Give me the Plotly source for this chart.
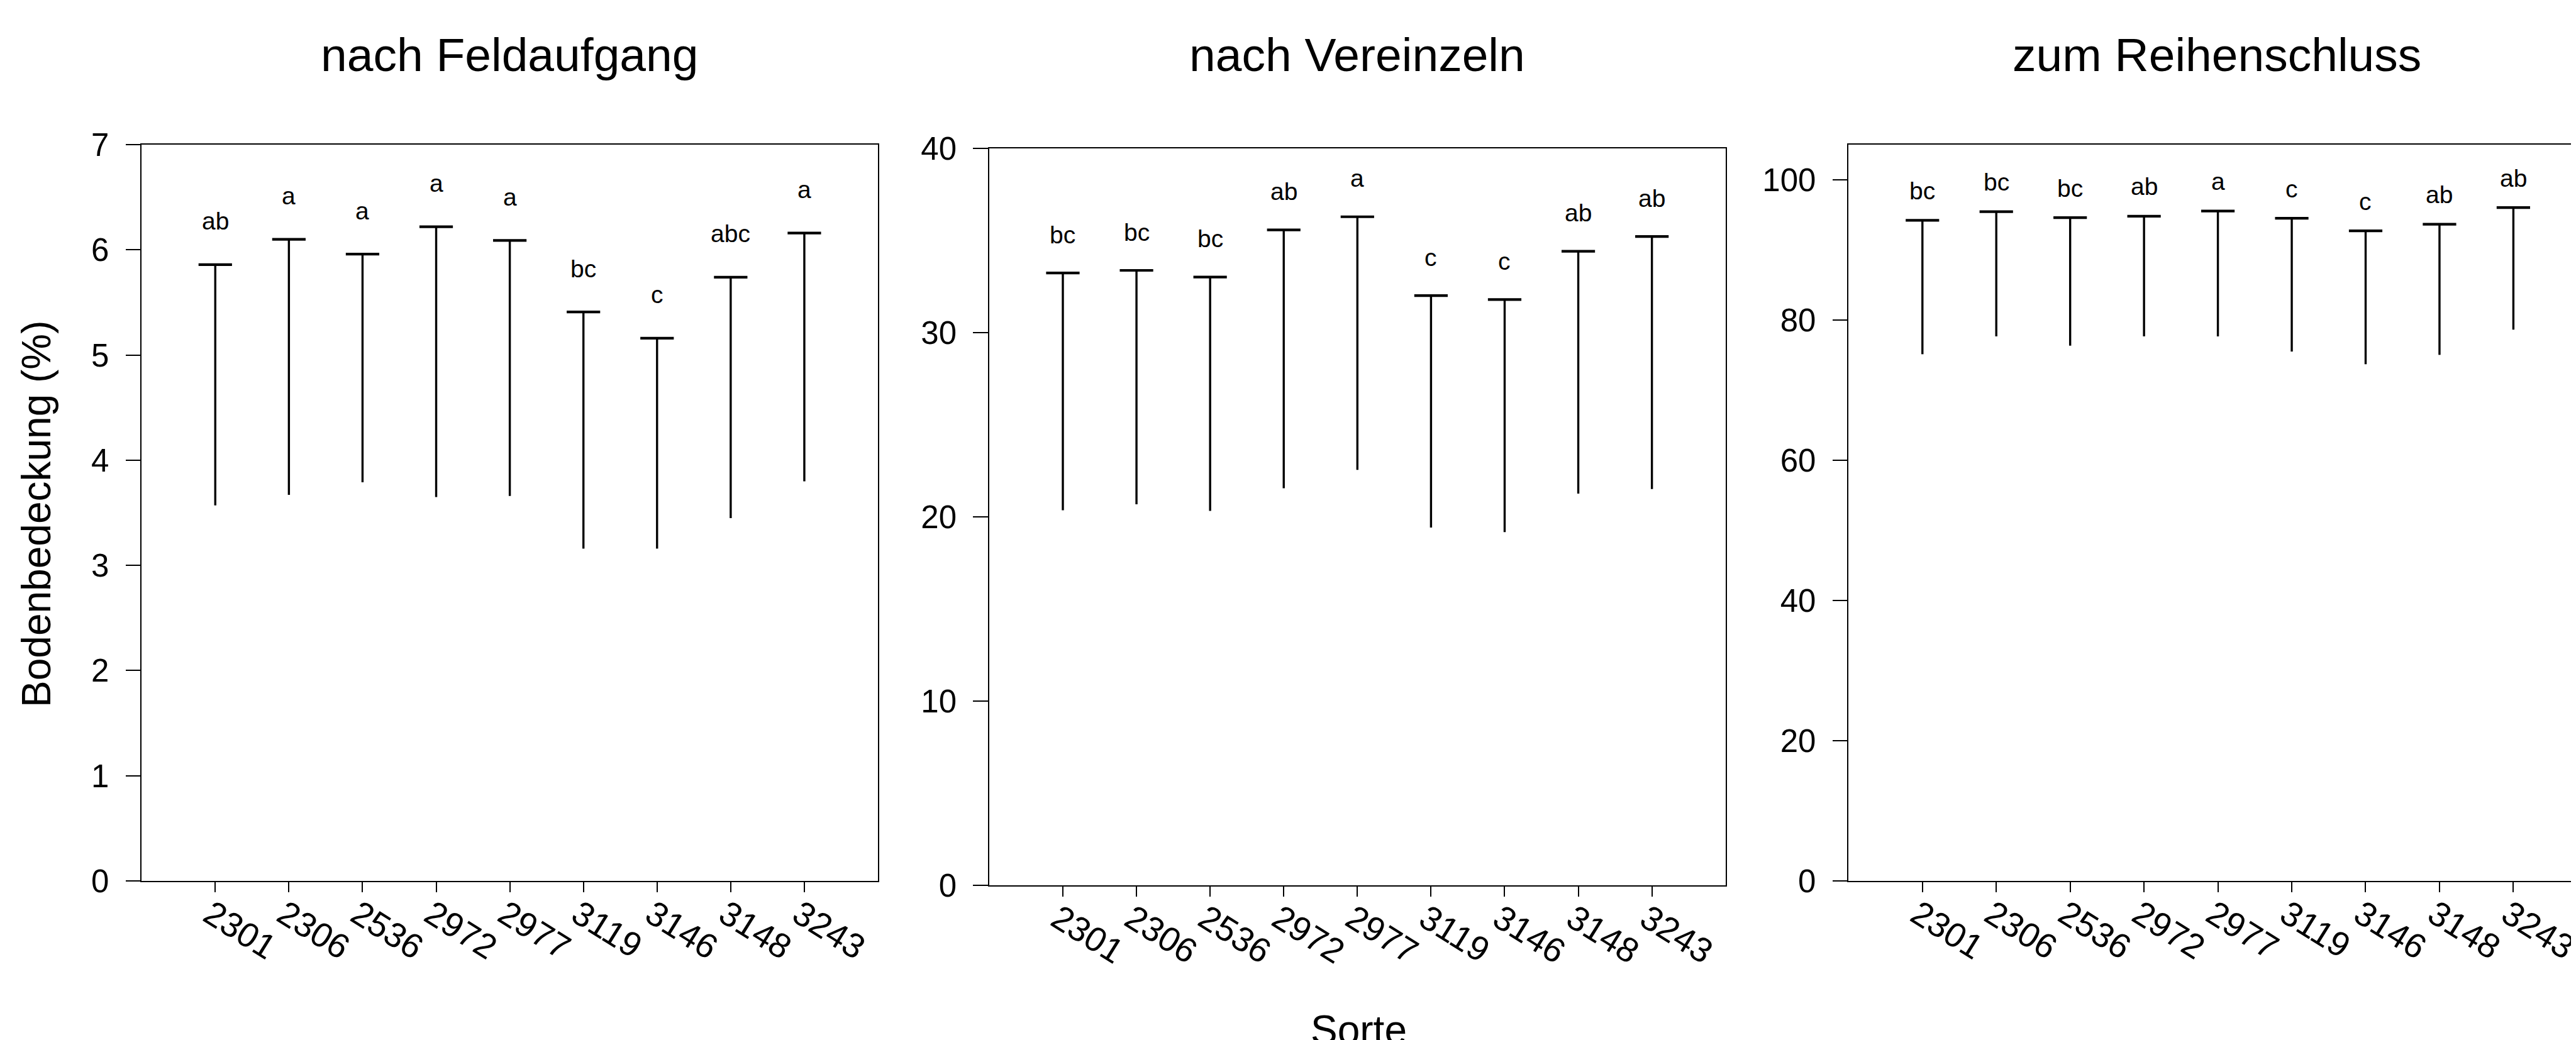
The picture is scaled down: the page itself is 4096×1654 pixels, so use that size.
import plotly.graph_objects as go

categories = ["2301", "2306", "2536", "2972", "2977", "3119", "3146", "3148", "3243"]

# panel 1: nach Feldaufgang
p1_high = [5.86, 6.10, 5.96, 6.22, 6.09, 5.41, 5.16, 5.74, 6.16]
p1_low = [3.57, 3.67, 3.79, 3.65, 3.66, 3.16, 3.16, 3.45, 3.80]
p1_letters = ["ab", "a", "a", "a", "a", "bc", "c", "abc", "a"]

# panel 2: nach Vereinzeln
p2_high = [33.24, 33.38, 33.02, 35.58, 36.29, 32.01, 31.80, 34.42, 35.22]
p2_low = [20.36, 20.68, 20.32, 21.55, 22.55, 19.42, 19.17, 21.26, 21.51]
p2_letters = ["bc", "bc", "bc", "ab", "a", "c", "c", "ab", "ab"]

# panel 3: zum Reihenschluss
p3_high = [94.23, 95.46, 94.61, 94.80, 95.55, 94.51, 92.72, 93.66, 96.03]
p3_low = [75.12, 77.67, 76.35, 77.67, 77.67, 75.50, 73.70, 75.03, 78.62]
p3_letters = ["bc", "bc", "bc", "ab", "a", "c", "c", "ab", "ab"]

titles = ["nach Feldaufgang", "nach Vereinzeln", "zum Reihenschluss"]
y_title = "Bodenbedeckung (%)"
x_title = "Sorte"

W, H = 4096, 1654
FONT = "Liberation Sans, Arial, Helvetica, sans-serif"

panels = [
    dict(high=p1_high, low=p1_low, letters=p1_letters, yr=[0, 7], dtick=1,
         xd=[0.05303, 0.33887], yd=[0.15786, 0.86566], xr=[-1, 9], mirror_y=True, lshift=69),
    dict(high=p2_high, low=p2_low, letters=p2_letters, yr=[0, 40], dtick=10,
         xd=[0.38206, 0.66790], yd=[0.15369, 0.86209], xr=[-1, 9], mirror_y=True, lshift=61),
    dict(high=p3_high, low=p3_low, letters=p3_letters, yr=[0, 105], dtick=20,
         xd=[0.71565, 1.0], yd=[0.15786, 0.86566], xr=[-1, 8.916], mirror_y=False, lshift=47),
]

fig = go.Figure()
annotations = []
idx = list(range(len(categories)))

for k, p in enumerate(panels):
    n = "" if k == 0 else str(k + 1)
    xa, ya = "x" + n, "y" + n
    lx, ly = [], []
    for i in idx:
        lx += [i, i, None]
        ly += [p["low"][i], p["high"][i], None]
    fig.add_trace(go.Scatter(x=lx, y=ly, mode="lines", xaxis=xa, yaxis=ya,
                             line=dict(color="black", width=3.4), showlegend=False,
                             hoverinfo="skip"))
    fig.add_trace(go.Scatter(x=idx, y=p["high"], mode="markers", xaxis=xa, yaxis=ya,
                             marker=dict(symbol="line-ew", size=38, color="black",
                                         line=dict(color="black", width=4.2)),
                             showlegend=False))
    for i in idx:
        annotations.append(dict(x=i, y=p["high"][i], xref=xa, yref=ya, text=p["letters"][i],
                                showarrow=False, yanchor="middle", yshift=p["lshift"],
                                font=dict(family=FONT, size=39, color="black")))
    axis_common = dict(showline=True, linecolor="black", linewidth=2.2, showgrid=False,
                       zeroline=False, ticks="outside", tickcolor="black", tickwidth=2.2)
    fig.layout["xaxis" + n] = dict(axis_common, domain=p["xd"], range=p["xr"], mirror=True,
                                   tickmode="array", tickvals=idx, ticktext=categories,
                                   ticklen=15.7, tickangle=32, anchor=ya,
                                   ticklabeloverflow="allow", ticklabelstandoff=-18,
                                   ticklabelshift=-8,
                                   tickfont=dict(family=FONT, size=55, color="black"))
    fig.layout["yaxis" + n] = dict(axis_common, domain=p["yd"], range=p["yr"], dtick=p["dtick"],
                                   tick0=0, mirror=p["mirror_y"], ticklen=23.6, anchor=xa,
                                   ticklabelstandoff=16,
                                   tickfont=dict(family=FONT, size=51, color="black"))

title_x = [0.19583, 0.52486, 0.85869]
for t, xx in zip(titles, title_x):
    annotations.append(dict(x=xx, y=0.9520, xref="paper", yref="paper", text=t, showarrow=False,
                            xanchor="center", yanchor="middle",
                            font=dict(family=FONT, size=75, color="black")))

annotations.append(dict(x=0.0122, y=0.5109, xref="paper", yref="paper", text=y_title,
                        showarrow=False, textangle=-90, xanchor="center", yanchor="middle",
                        font=dict(family=FONT, size=64, color="black")))
annotations.append(dict(x=0.5254, y=0.0, xref="paper", yref="paper", text=x_title,
                        showarrow=False, xanchor="center", yanchor="bottom", yshift=-14,
                        font=dict(family=FONT, size=64, color="black")))

fig.update_layout(width=W, height=H, margin=dict(l=0, r=0, t=0, b=0),
                  paper_bgcolor="white", plot_bgcolor="white", template="none",
                  annotations=annotations, showlegend=False)

fig.write_html("out.html", config={"displayModeBar": False})
